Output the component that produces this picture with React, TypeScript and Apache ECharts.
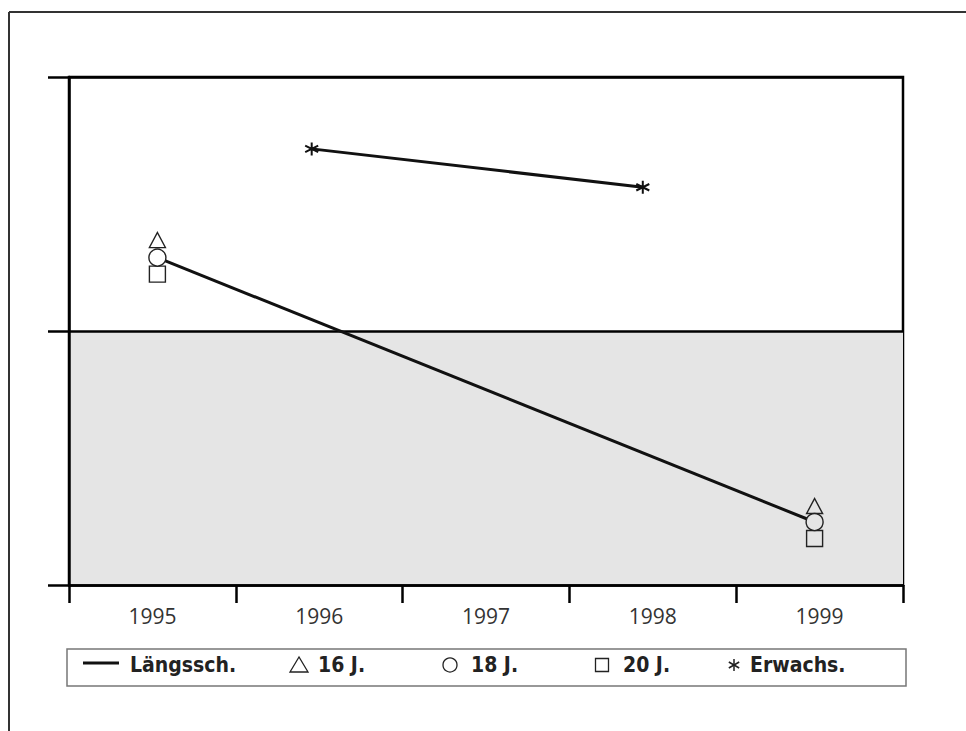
import React, { useEffect, useRef } from "react";
import * as echarts from "echarts";

// ---- data ----
const years = ["1995", "1996", "1997", "1998", "1999"];
const surveyYears = [1995.03, 1998.97]; // horizontal position of the survey points
const laengsschValues = [1.289, 0.248];
const j16Values = [1.358, 0.311];
const j18Values = [1.289, 0.248];
const j20Values = [1.224, 0.183];
const erwachsYears = [1995.955, 1997.94];
const erwachsValues = [1.717, 1.566];
const yTicks = [0, 1, 2];
const legendLabels = ["Längssch.", "16 J.", "18 J.", "20 J.", "Erwachs."];

const GRAY = "#e5e5e5";
const ASTERISK = "path://M6,0L6,12M0.8,3L11.2,9M0.8,9L11.2,3";

export default function App() {
  const ref = useRef<HTMLDivElement>(null);

  useEffect(() => {
    if (!ref.current) return;
    const chart = echarts.init(ref.current, undefined, { renderer: "svg" });

    const pairs = (xs: number[], ys: number[]) => xs.map((x, i) => [x, ys[i]]);

    const legendFont = {
      fontFamily: "'DejaVu Sans Condensed', sans-serif",
      fontWeight: "bold" as const,
      fontSize: 21,
      fill: "#222",
      verticalAlign: "middle" as const,
    };
    const ly = 665;
    const iconStroke = { stroke: "#222", lineWidth: 1.3, fill: "none" };

    const option: any = {
      animation: false,
      backgroundColor: "#fff",
      grid: {
        left: 69,
        top: 77,
        width: 834,
        height: 508,
        show: true,
        borderColor: "#000",
        borderWidth: 2.5,
        containLabel: false,
      },
      xAxis: [
        {
          type: "category",
          data: years,
          boundaryGap: true,
          axisLine: { show: true, lineStyle: { color: "#000", width: 2.5 } },
          axisTick: { show: true, length: 18, lineStyle: { color: "#000", width: 2.5 } },
          axisLabel: {
            show: true,
            color: "#333",
            fontSize: 21,
            fontFamily: "'Open Sans', sans-serif",
            margin: 20,
          },
          splitLine: { show: false },
        },
        {
          type: "value",
          min: 1994.5,
          max: 1999.5,
          show: false,
          splitLine: { show: false },
        },
      ],
      yAxis: {
        type: "value",
        min: yTicks[0],
        max: yTicks[yTicks.length - 1],
        interval: 1,
        axisLabel: { show: false },
        axisLine: { show: true, lineStyle: { color: "#000", width: 2.5 } },
        axisTick: { show: true, length: 21, lineStyle: { color: "#000", width: 2.5 } },
        splitLine: { show: true, lineStyle: { color: "#000", width: 2.5 } },
        splitArea: { show: true, areaStyle: { color: [GRAY, "rgba(0,0,0,0)"] } },
      },
      series: [
        {
          name: legendLabels[0],
          type: "line",
          xAxisIndex: 1,
          data: pairs(surveyYears, laengsschValues),
          symbol: "none",
          lineStyle: { color: "#111", width: 3 },
          z: 2,
        },
        {
          name: legendLabels[1],
          type: "scatter",
          xAxisIndex: 1,
          data: pairs(surveyYears, j16Values),
          symbol: "triangle",
          symbolSize: [16, 15],
          itemStyle: { color: "rgba(0,0,0,0)", borderColor: "#222", borderWidth: 1.4, opacity: 1 },
          z: 3,
        },
        {
          name: legendLabels[2],
          type: "scatter",
          xAxisIndex: 1,
          data: pairs(surveyYears, j18Values).map((p) => ({
            value: p,
            itemStyle: { color: p[1] < 1 ? GRAY : "#fff" },
          })),
          symbol: "circle",
          symbolSize: 17,
          itemStyle: { borderColor: "#222", borderWidth: 1.4, opacity: 1 },
          z: 4,
        },
        {
          name: legendLabels[3],
          type: "scatter",
          xAxisIndex: 1,
          data: pairs(surveyYears, j20Values),
          symbol: "rect",
          symbolSize: 16,
          itemStyle: { color: "rgba(0,0,0,0)", borderColor: "#222", borderWidth: 1.4, opacity: 1 },
          z: 3,
        },
        {
          name: legendLabels[4],
          type: "line",
          xAxisIndex: 1,
          data: pairs(erwachsYears, erwachsValues),
          symbol: ASTERISK,
          symbolSize: 13,
          showSymbol: true,
          itemStyle: { color: "rgba(0,0,0,0)", borderColor: "#111", borderWidth: 2, opacity: 1 },
          lineStyle: { color: "#111", width: 3 },
          z: 3,
        },
      ],
      graphic: [
        // outer frame
        { type: "line", shape: { x1: 9, y1: 12, x2: 966, y2: 12 }, style: { stroke: "#333", lineWidth: 2 } },
        { type: "line", shape: { x1: 9, y1: 12, x2: 9, y2: 731 }, style: { stroke: "#333", lineWidth: 2 } },
        // legend box
        {
          type: "rect",
          shape: { x: 67, y: 649, width: 839, height: 37 },
          style: { stroke: "#777", lineWidth: 1.5, fill: "#fff" },
        },
        { type: "line", shape: { x1: 83, y1: 663, x2: 119, y2: 663 }, style: { stroke: "#111", lineWidth: 3 } },
        { type: "text", x: 130, y: ly, style: { text: legendLabels[0], ...legendFont } },
        {
          type: "polygon",
          shape: { points: [[299, ly - 8], [290, ly + 7], [308, ly + 7]] },
          style: iconStroke,
        },
        { type: "text", x: 318, y: ly, style: { text: legendLabels[1], ...legendFont } },
        { type: "circle", shape: { cx: 450, cy: ly, r: 7 }, style: iconStroke },
        { type: "text", x: 471, y: ly, style: { text: legendLabels[2], ...legendFont } },
        { type: "rect", shape: { x: 595.5, y: ly - 6.5, width: 13, height: 13 }, style: iconStroke },
        { type: "text", x: 623, y: ly, style: { text: legendLabels[3], ...legendFont } },
        {
          type: "group",
          children: [
            { type: "line", shape: { x1: 734, y1: ly - 6, x2: 734, y2: ly + 6 }, style: { stroke: "#222", lineWidth: 1.5 } },
            { type: "line", shape: { x1: 728.8, y1: ly - 3, x2: 739.2, y2: ly + 3 }, style: { stroke: "#222", lineWidth: 1.5 } },
            { type: "line", shape: { x1: 728.8, y1: ly + 3, x2: 739.2, y2: ly - 3 }, style: { stroke: "#222", lineWidth: 1.5 } },
          ],
        },
        { type: "text", x: 750, y: ly, style: { text: legendLabels[4], ...legendFont } },
      ],
    };

    chart.setOption(option);
    return () => chart.dispose();
  }, []);

  return (
    <div
      ref={ref}
      style={{ position: "fixed", left: 0, top: 0, width: 966, height: 731, background: "#fff" }}
    />
  );
}
